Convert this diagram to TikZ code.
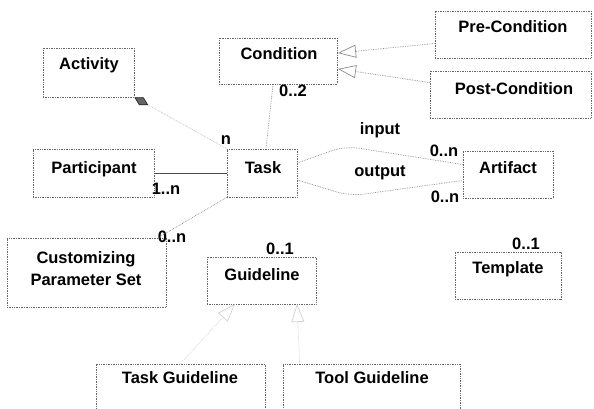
\documentclass[tikz,border=0pt]{standalone}
\usepackage{fontspec}
\setmainfont{Liberation Sans}
\usetikzlibrary{arrows.meta,calc}
\begin{document}
\begin{tikzpicture}[x=1pt,y=-1pt,
  box/.style={draw=black!60, densely dotted, line width=0.7pt, inner sep=0pt},
  txt/.style={font=\fontsize{16.5}{20}\selectfont\bfseries, anchor=base, inner sep=0pt},
  conn/.style={draw=black!45, densely dotted, line width=0.7pt},
  inh/.style={conn, -{Triangle[open, length=18pt, width=13pt, fill=white]}},
]
\useasboundingbox[fill=white] (0,0) rectangle (594,409);
% boxes
\node[box, minimum width=91pt,  minimum height=49pt] (act)  at (88.5,72.5) {};
\node[box, minimum width=118pt, minimum height=46pt] (cond) at (278,61) {};
\node[box, minimum width=156pt, minimum height=47pt] (pre)  at (513,34.5) {};
\node[box, minimum width=161pt, minimum height=47pt] (post) at (510.5,94.5) {};
\node[box, minimum width=121pt, minimum height=48pt] (part) at (93.5,173) {};
\node[box, minimum width=70pt,  minimum height=48pt] (task) at (262,173) {};
\node[box, minimum width=90pt,  minimum height=47pt] (art)  at (508,174.5) {};
\node[box, minimum width=159pt, minimum height=69pt] (cust) at (86.5,272.5) {};
\node[box, minimum width=109pt, minimum height=47pt] (guide) at (261.5,280.5) {};
\node[box, minimum width=106pt, minimum height=47pt] (tmpl) at (508,275.5) {};
\node[box, minimum width=169pt, minimum height=50pt] (tg)   at (180.5,389) {};
\node[box, minimum width=177pt, minimum height=50pt] (tlg)  at (371.5,389) {};
% box texts
\node[txt] (actT)  at (89,70)  {Activity};
\node[txt] (condT) at (279,60) {Condition};
\node[txt] (preT)  at (513,33) {Pre-Condition};
\node[txt] (postT) at (514,95) {Post-Condition};
\node[txt] (partT) at (94,173) {Participant};
\node[txt] (taskT) at (263,173) {Task};
\node[txt] (artT)  at (508,173) {Artifact};
\node[txt] (custT1) at (86,263) {Customizing};
\node[txt] (custT2) at (86,285) {Parameter Set};
\node[txt] (guideT) at (262,280) {Guideline};
\node[txt] (tmplT) at (508,273) {Template};
\node[txt] (tgT)   at (180,383) {Task Guideline};
\node[txt] (tlgT)  at (372,383) {Tool Guideline};
% multiplicities and role labels
\node[txt] (m1) at (293,97)  {0..2};
\node[txt] (m2) at (226,145) {n};
\node[txt] (m3) at (380,135) {input};
\node[txt] (m4) at (444,157) {0..n};
\node[txt] (m5) at (380,176) {output};
\node[txt] (m6) at (445,202) {0..n};
\node[txt] (m7) at (166,194) {1..n};
\node[txt] (m8) at (172,242) {0..n};
\node[txt] (m9) at (280,254) {0..1};
\node[txt] (m10) at (526,249) {0..1};
% helper coordinates
\coordinate (condA) at (338,53);
\coordinate (condB) at (338,69);
\coordinate (inBend) at (345,146);
\coordinate (outBend) at (350,196);
\coordinate (gA) at (235,304);
\coordinate (gB) at (297,304);
% connectors
\draw[conn, draw=black!25, {Diamond[length=16pt, width=9pt, fill=black!60, color=black!85]}-] (act.south east) -- (task.north west);
\draw[conn] ($(cond.south)+(-5,0)$) -- ($(task.north)+(4,0)$);
\draw[black!70, line width=0.8pt] (part.east) -- (task.west);
\draw[conn, rounded corners=14pt] ($(task.east)+(0,-10)$) -- (inBend) -- ($(art.west)+(0,-10)$);
\draw[conn, rounded corners=14pt] ($(task.east)+(0,7)$) -- (outBend) -- ($(art.west)+(0,6)$);
\draw[conn] (task.south west) -- ($(cust.north east)+(-8,0)$);
\draw[inh] ($(pre.west)+(0,9)$) -- (condA);
\draw[inh] ($(post.west)+(0,-12)$) -- (condB);
\draw[inh, draw=black!18] (tg.north) -- (gA);
\draw[inh, draw=black!18] ($(tlg.north west)+(17,0)$) -- (gB);
\end{tikzpicture}
\end{document}
